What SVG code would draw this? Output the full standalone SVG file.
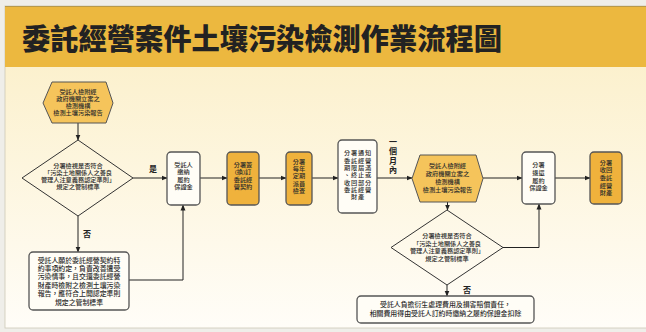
<svg xmlns="http://www.w3.org/2000/svg" width="646" height="332" viewBox="0 0 646 332">
<defs>
<linearGradient id="bg" x1="0" y1="0" x2="0" y2="1">
<stop offset="0" stop-color="#fbeec4"/>
<stop offset="1" stop-color="#fffdf8"/>
</linearGradient>
<marker id="ah" markerWidth="6" markerHeight="6" refX="5.5" refY="3" orient="auto" markerUnits="userSpaceOnUse">
<path d="M0,0.5 L6,3 L0,5.5 Z" fill="#222"/>
</marker>
<style>
.t{font-family:"Liberation Sans","Noto Sans CJK TC","Noto Sans CJK SC",sans-serif;font-size:6.2px;font-weight:500;fill:#2a2a2a;text-anchor:middle}
.tb{font-size:6.9px}
.lb{font-family:"Liberation Sans","Noto Sans CJK TC","Noto Sans CJK SC",sans-serif;font-size:8px;font-weight:700;fill:#222;text-anchor:middle}
.box{fill:#fffdf6;stroke:#555;stroke-width:1.3}
.obox{fill:#efb23c;stroke:#555;stroke-width:1.3}
.hex{fill:#f5c45b;stroke:#555;stroke-width:1}
.dia{fill:none;stroke:#333;stroke-width:1}
.c{fill:none;stroke:#222;stroke-width:1;marker-end:url(#ah)}
</style>
</defs>
<rect x="0" y="0" width="646" height="332" fill="#efeee9"/>
<rect x="5" y="6" width="645" height="322" fill="url(#bg)" stroke="#cdc8b6" stroke-width="0.8"/>
<rect x="5" y="6" width="645" height="61" fill="#ecb83f"/>
<line x1="5" y1="6.5" x2="646" y2="6.5" stroke="#b8994a" stroke-width="1"/>
<text x="22" y="50" font-family="'Noto Sans CJK TC','Noto Sans CJK SC',sans-serif" font-size="29" font-weight="900" fill="#222" textLength="480" lengthAdjust="spacingAndGlyphs">委託經營案件土壤污染檢測作業流程圖</text>

<g id="connectors">
<line class="c" x1="78" y1="123" x2="78" y2="140"/>
<line class="c" x1="133" y1="178" x2="167" y2="178"/>
<line class="c" x1="78" y1="216" x2="78" y2="252"/>
<polyline class="c" points="129,280 183,280 183,205"/>
<line class="c" x1="200" y1="178" x2="227" y2="178"/>
<line class="c" x1="259" y1="178" x2="286" y2="178"/>
<line class="c" x1="312" y1="178" x2="338" y2="178"/>
<line class="c" x1="377" y1="178" x2="412" y2="178"/>
<line class="c" x1="483" y1="178" x2="522" y2="178"/>
<line class="c" x1="555" y1="178" x2="590" y2="178"/>
<line class="c" x1="447.5" y1="202" x2="447.5" y2="210"/>
<polyline class="c" points="503,247.5 539,247.5 539,204"/>
<line class="c" x1="447" y1="285" x2="447" y2="296"/>
<text class="lb" x="153" y="172">是</text>
<text class="lb" x="87" y="237">否</text>
<text class="lb" x="467" y="293">否</text>
<text class="lb" x="393" y="145" font-size="8.5"><tspan x="393">一</tspan><tspan x="393" dy="9.3">個</tspan><tspan x="393" dy="9.3">月</tspan><tspan x="393" dy="9.3">內</tspan></text>
</g>

<g id="n1">
<polygon class="hex" points="43,103 52,82 106,82 113,103 106,123 52,123"/>
<text class="t"><tspan x="78" y="94.3">受託人檢附經</tspan><tspan x="78" y="101.3">政府機關立案之</tspan><tspan x="78" y="108.3">檢測機構</tspan><tspan x="78" y="115.3">檢測土壤污染報告</tspan></text>
</g>

<g id="n2">
<polygon class="dia" points="78,140 133,178 78,216 22,178"/>
<text class="t"><tspan x="78" y="168.3">分署檢視是否符合</tspan><tspan x="78" y="175.3">「污染土地關係人之善良</tspan><tspan x="78" y="182.3">管理人注意義務認定準則」</tspan><tspan x="78" y="189.3">規定之管制標準</tspan></text>
</g>

<g id="n3">
<rect class="box" x="29" y="252" width="100" height="58" rx="4"/>
<text class="t tb"><tspan x="79" y="262.5">受託人願於委託經營契約特</tspan><tspan x="79" y="270.9">約事項約定，負責改善遭受</tspan><tspan x="79" y="279.3">污染情事，且交還委託經營</tspan><tspan x="79" y="287.7">財產時檢附之檢測土壤污染</tspan><tspan x="79" y="296.1">報告，應符合上開認定準則</tspan><tspan x="79" y="304.5">規定之管制標準</tspan></text>
</g>

<g id="n4">
<rect class="box" x="167" y="152" width="33" height="53" rx="4"/>
<text class="t"><tspan x="183.5" y="166.5">受託人</tspan><tspan x="183.5" y="174">繳納</tspan><tspan x="183.5" y="181.5">履約</tspan><tspan x="183.5" y="189">保證金</tspan></text>
</g>

<g id="n5">
<rect class="obox" x="227" y="152" width="32" height="53" rx="4"/>
<text class="t"><tspan x="243" y="166.5">分署簽</tspan><tspan x="243" y="174">(換)訂</tspan><tspan x="243" y="181.5">委託經</tspan><tspan x="243" y="189">營契約</tspan></text>
</g>

<g id="n6">
<rect class="obox" x="286" y="152" width="26" height="53" rx="4"/>
<text class="t"><tspan x="299" y="164">分署</tspan><tspan x="299" y="171.2">每年</tspan><tspan x="299" y="178.4">定期</tspan><tspan x="299" y="185.6">派員</tspan><tspan x="299" y="192.8">檢查</tspan></text>
</g>

<g id="n7">
<rect class="box" x="338" y="140" width="39" height="73" rx="4"/>
<text class="t" letter-spacing="0.8"><tspan x="357.9" y="155.3">分署通知</tspan><tspan x="357.9" y="162.6">委託經營</tspan><tspan x="357.9" y="169.9">期限屆滿</tspan><tspan x="357.9" y="177.2">、終止或</tspan><tspan x="357.9" y="184.5">收回部分</tspan><tspan x="357.9" y="191.8">委託經營</tspan><tspan x="357.9" y="199.1">財產</tspan></text>
</g>

<g id="n8">
<polygon class="hex" points="412,178.5 420,155 476,155 483,178.5 476,202 420,202"/>
<text class="t"><tspan x="447.5" y="167.5">受託人檢附經</tspan><tspan x="447.5" y="175.5">政府機關立案之</tspan><tspan x="447.5" y="183.5">檢測機構</tspan><tspan x="447.5" y="191.5">檢測土壤污染報告</tspan></text>
</g>

<g id="n9">
<rect class="box" x="522" y="152" width="33" height="52" rx="4"/>
<text class="t"><tspan x="538.5" y="167.3">分署</tspan><tspan x="538.5" y="175">退還</tspan><tspan x="538.5" y="182.7">履約</tspan><tspan x="538.5" y="190.4">保證金</tspan></text>
</g>

<g id="n10">
<rect class="obox" x="590" y="152" width="32" height="52" rx="4"/>
<text class="t"><tspan x="606" y="164.5">分署</tspan><tspan x="606" y="172.2">收回</tspan><tspan x="606" y="179.9">委託</tspan><tspan x="606" y="187.6">經營</tspan><tspan x="606" y="195.3">財產</tspan></text>
</g>

<g id="n11">
<polygon class="dia" points="447,210 503,247.5 447,285 391,247.5"/>
<text class="t"><tspan x="447" y="238.3">分署檢視是否符合</tspan><tspan x="447" y="245.8">「污染土地關係人之善良</tspan><tspan x="447" y="253.3">管理人注意義務認定準則」</tspan><tspan x="447" y="260.8">規定之管制標準</tspan></text>
</g>

<g id="n12">
<rect class="box" x="357" y="296" width="177" height="27" rx="4"/>
<text class="t tb"><tspan x="445.5" y="307.3">受託人負擔衍生處理費用及損害賠償責任，</tspan><tspan x="445.5" y="316">相關費用得由受託人訂約時繳納之履約保證金扣除</tspan></text>
</g>
</svg>
